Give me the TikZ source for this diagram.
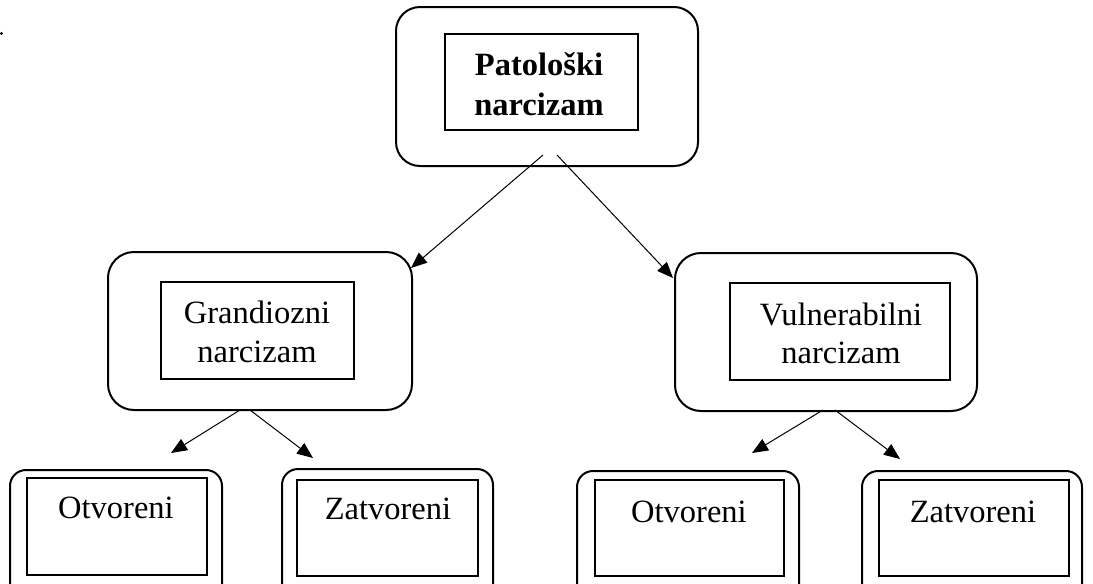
\documentclass[tikz,border=0pt]{standalone}
\usepackage{fontspec}
\setmainfont{Liberation Serif}
\usetikzlibrary{arrows.meta}
\tikzset{
  outerbox/.style={draw, line width=2pt, rounded corners=#1, inner sep=0pt},
  innerbox/.style={draw, line width=2pt, inner sep=0pt},
  lbl/.style={anchor=base, inner sep=0pt, font=\fontsize{32.5}{39}\selectfont},
  conn/.style={line width=1pt, -{Triangle[length=16pt,width=13pt]}}
}
\begin{document}
\begin{tikzpicture}[x=1pt,y=-1pt]
\useasboundingbox (0,0) rectangle (1093,584);
\clip (0,0) rectangle (1093,584);
\fill (1.5,33.5) circle (1.6pt);
% top
\node[outerbox=24pt, minimum width=302pt, minimum height=159pt] (top) at (547,86.5) {};
\node[innerbox, minimum width=193pt, minimum height=96pt] (topin) at (541.5,82) {};
\node[lbl, font=\fontsize{32.5}{39}\selectfont\bfseries] (t1) at (539,75) {Patološki};
\node[lbl, font=\fontsize{32.5}{39}\selectfont\bfseries] (t2) at (539,115) {narcizam};
% middle left
\node[outerbox=26pt, minimum width=304pt, minimum height=158pt] (gr) at (260,331) {};
\node[innerbox, minimum width=193pt, minimum height=97pt] (grin) at (257.5,330.5) {};
\node[lbl] (g1) at (257,323) {Grandiozni};
\node[lbl] (g2) at (257,362) {narcizam};
% middle right
\node[outerbox=26pt, minimum width=302pt, minimum height=158pt] (vu) at (826,332) {};
\node[innerbox, minimum width=220pt, minimum height=97pt] (vuin) at (840,331.5) {};
\node[lbl] (v1) at (841,325) {Vulnerabilni};
\node[lbl] (v2) at (841,363) {narcizam};
% bottom row
\node[outerbox=16pt, minimum width=212pt, minimum height=150pt] (o1) at (116,545) {};
\node[innerbox, minimum width=180pt, minimum height=97pt] (o1in) at (117,526.5) {};
\node[lbl] (o1t) at (116,518) {Otvoreni};
\node[outerbox=16pt, minimum width=211pt, minimum height=150pt] (z1) at (387.5,544) {};
\node[innerbox, minimum width=181pt, minimum height=96pt] (z1in) at (387.5,528) {};
\node[lbl] (z1t) at (388,519) {Zatvoreni};
\node[outerbox=16pt, minimum width=222pt, minimum height=150pt] (o2) at (688,546) {};
\node[innerbox, minimum width=189pt, minimum height=96pt] (o2in) at (689.5,528) {};
\node[lbl] (o2t) at (689,522) {Otvoreni};
\node[outerbox=16pt, minimum width=220pt, minimum height=150pt] (z2) at (972,546) {};
\node[innerbox, minimum width=190pt, minimum height=96pt] (z2in) at (974,528) {};
\node[lbl] (z2t) at (973,522) {Zatvoreni};
% connector points
\coordinate (ta) at (543,155);
\coordinate (tb) at (557,155);
\coordinate (ga) at (411,268);
\coordinate (vb) at (673,278);
\coordinate (gsa) at (240,410);
\coordinate (gsb) at (250,410);
\coordinate (o1e) at (171,453);
\coordinate (z1e) at (313,458);
\coordinate (vsa) at (823,410);
\coordinate (vsb) at (835,410);
\coordinate (o2e) at (752,453);
\coordinate (z2e) at (900,459);
\draw[conn] (ta) -- (ga);
\draw[conn] (tb) -- (vb);
\draw[conn] (gsa) -- (o1e);
\draw[conn] (gsb) -- (z1e);
\draw[conn] (vsa) -- (o2e);
\draw[conn] (vsb) -- (z2e);
\end{tikzpicture}
\end{document}
